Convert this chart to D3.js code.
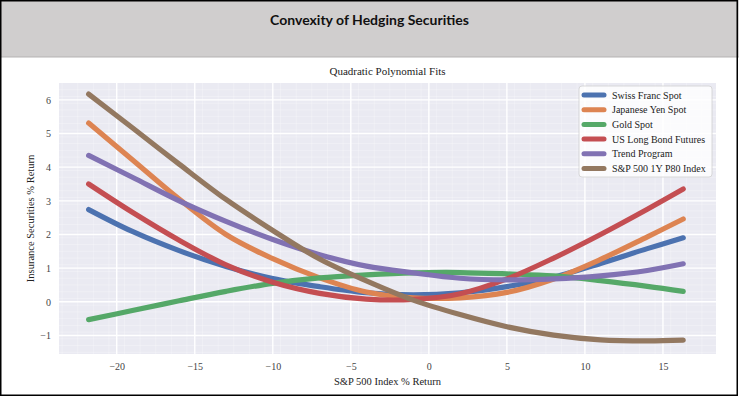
<!DOCTYPE html>
<html>
<head>
<meta charset="utf-8">
<script src="https://cdn.jsdelivr.net/npm/d3@7"></script>
<style>
  html, body { margin: 0; padding: 0; background: #fff; }
  #chart { width: 739px; height: 399px; }
</style>
</head>
<body>
<div id="chart"></div>
<script>
// valeurs (courbes d'ajustement quadratique)
const xReturns = [-21.8, -19, -16, -13, -10, -7, -4, -1, 2, 5, 8, 11, 14, 16.3];
const swissFranc = [2.74, 2.09, 1.52, 1.05, 0.69, 0.45, 0.27, 0.21, 0.27, 0.45, 0.73, 1.14, 1.58, 1.90];
const japaneseYen = [5.31, 4.22, 3.05, 2.00, 1.28, 0.71, 0.29, 0.12, 0.12, 0.28, 0.68, 1.26, 1.93, 2.46];
const goldSpot = [-0.53, -0.26, 0.03, 0.31, 0.55, 0.71, 0.80, 0.86, 0.87, 0.83, 0.77, 0.63, 0.46, 0.31];
const usLongBond = [3.50, 2.66, 1.83, 1.10, 0.58, 0.25, 0.08, 0.07, 0.24, 0.68, 1.30, 2.00, 2.75, 3.35];
const trendProgram = [4.35, 3.70, 3.00, 2.39, 1.85, 1.40, 1.06, 0.86, 0.70, 0.65, 0.68, 0.77, 0.93, 1.13];
const sp500P80 = [6.17, 5.17, 4.09, 3.04, 2.12, 1.27, 0.62, 0.05, -0.38, -0.74, -0.99, -1.13, -1.16, -1.14];

const seriesNames = ['Swiss Franc Spot', 'Japanese Yen Spot', 'Gold Spot', 'US Long Bond Futures', 'Trend Program', 'S&P 500 1Y P80 Index'];
const seriesColors = ['#4C72B0', '#DD8452', '#55A868', '#C44E52', '#8172B3', '#937860'];
const seriesValues = [swissFranc, japaneseYen, goldSpot, usLongBond, trendProgram, sp500P80];

const xTicks = [-20, -15, -10, -5, 0, 5, 10, 15];
const yTicks = [-1, 0, 1, 2, 3, 4, 5, 6];

const W = 739, H = 399;
const plot = { left: 59, right: 716, top: 83, bottom: 354 };

const svg = d3.select('#chart').append('svg')
    .attr('width', W)
    .attr('height', H);

// bandeau de titre
svg.append('rect').attr('x', 0).attr('y', 0).attr('width', W).attr('height', 57).attr('fill', '#d0cece');
svg.append('line').attr('x1', 0).attr('x2', W).attr('y1', 57).attr('y2', 57).attr('stroke', '#b5b3b3');
svg.append('text')
    .attr('x', W / 2).attr('y', 25)
    .attr('text-anchor', 'middle')
    .attr('font-family', 'Lato, "Open Sans", sans-serif')
    .attr('font-weight', 'bold')
    .attr('font-size', '14px')
    .attr('fill', '#111')
    .text('Convexity of Hedging Securities');

// cadre extérieur
svg.append('rect').attr('x', 0.75).attr('y', 0.75).attr('width', 736.5).attr('height', 394.5)
    .attr('fill', 'none').attr('stroke', '#000').attr('stroke-width', 1.5);

const x = d3.scaleLinear().domain([-23.7, 18.4]).range([plot.left, plot.right]);
const y = d3.scaleLinear().domain([-1.55, 6.5]).range([plot.bottom, plot.top]);

// fond style seaborn
svg.append('rect')
    .attr('x', plot.left).attr('y', plot.top)
    .attr('width', plot.right - plot.left).attr('height', plot.bottom - plot.top)
    .attr('fill', '#eaeaf2');

const grid = svg.append('g');
// grille mineure
grid.selectAll('line.vminor').data(d3.range(-23.5, 18.5, 1)).enter().append('line')
    .attr('x1', d => x(d)).attr('x2', d => x(d))
    .attr('y1', plot.top).attr('y2', plot.bottom)
    .attr('stroke', '#fff').attr('stroke-opacity', 0.45).attr('stroke-width', 0.6);
grid.selectAll('line.hminor').data(d3.range(-1.5, 6.5, 0.2)).enter().append('line')
    .attr('y1', d => y(d)).attr('y2', d => y(d))
    .attr('x1', plot.left).attr('x2', plot.right)
    .attr('stroke', '#fff').attr('stroke-opacity', 0.45).attr('stroke-width', 0.6);
// grille majeure
grid.selectAll('line.vmajor').data(xTicks).enter().append('line')
    .attr('x1', d => x(d)).attr('x2', d => x(d))
    .attr('y1', plot.top).attr('y2', plot.bottom)
    .attr('stroke', '#fff').attr('stroke-width', 1.4);
grid.selectAll('line.hmajor').data(yTicks).enter().append('line')
    .attr('y1', d => y(d)).attr('y2', d => y(d))
    .attr('x1', plot.left).attr('x2', plot.right)
    .attr('stroke', '#fff').attr('stroke-width', 1.4);

// axes
const serif = '"Liberation Serif", "DejaVu Serif", serif';
const xAxis = svg.append('g')
    .attr('transform', `translate(0,${plot.bottom})`)
    .call(d3.axisBottom(x).tickValues(xTicks).tickSize(0).tickPadding(9));
const yAxis = svg.append('g')
    .attr('transform', `translate(${plot.left},0)`)
    .call(d3.axisLeft(y).tickValues(yTicks).tickSize(0).tickPadding(8));
[xAxis, yAxis].forEach(a => {
    a.select('.domain').remove();
    a.selectAll('text').attr('font-family', serif).attr('font-size', '10px').attr('fill', '#444');
});

svg.append('text')
    .attr('x', (plot.left + plot.right) / 2).attr('y', 385)
    .attr('text-anchor', 'middle')
    .attr('font-family', serif).attr('font-size', '10.5px').attr('fill', '#222')
    .text('S&P 500 Index % Return');

svg.append('text')
    .attr('transform', `translate(34,${(plot.top + plot.bottom) / 2}) rotate(-90)`)
    .attr('text-anchor', 'middle')
    .attr('font-family', serif).attr('font-size', '10.5px').attr('fill', '#222')
    .text('Insurance Securities % Return');

svg.append('text')
    .attr('x', (plot.left + plot.right) / 2).attr('y', 75)
    .attr('text-anchor', 'middle')
    .attr('font-family', serif).attr('font-size', '11px').attr('fill', '#222')
    .text('Quadratic Polynomial Fits');

// courbes
const line = d3.line()
    .x((d, i) => x(xReturns[i]))
    .y(d => y(d))
    .curve(d3.curveCatmullRom.alpha(0.5));

svg.append('g')
    .selectAll('path')
    .data(seriesValues)
    .enter()
    .append('path')
    .attr('d', d => line(d))
    .attr('fill', 'none')
    .attr('stroke', (d, i) => seriesColors[i])
    .attr('stroke-width', 5.2)
    .attr('stroke-linecap', 'round')
    .attr('stroke-linejoin', 'round');

// légende
const legend = svg.append('g').attr('transform', 'translate(579,86)');
legend.append('rect')
    .attr('width', 133).attr('height', 91).attr('rx', 3)
    .attr('fill', '#fff').attr('fill-opacity', 0.8)
    .attr('stroke', '#d0d0d0').attr('stroke-width', 0.8);
const item = legend.selectAll('g.item')
    .data(seriesNames)
    .enter()
    .append('g')
    .attr('transform', (d, i) => `translate(0,${9 + i * 14.7})`);
item.append('line')
    .attr('x1', 5).attr('x2', 25)
    .attr('stroke', (d, i) => seriesColors[i])
    .attr('stroke-width', 5)
    .attr('stroke-linecap', 'round');
item.append('text')
    .attr('x', 33).attr('y', 3.5)
    .attr('font-family', serif).attr('font-size', '10px').attr('fill', '#222')
    .text(d => d);
</script>
</body>
</html>
